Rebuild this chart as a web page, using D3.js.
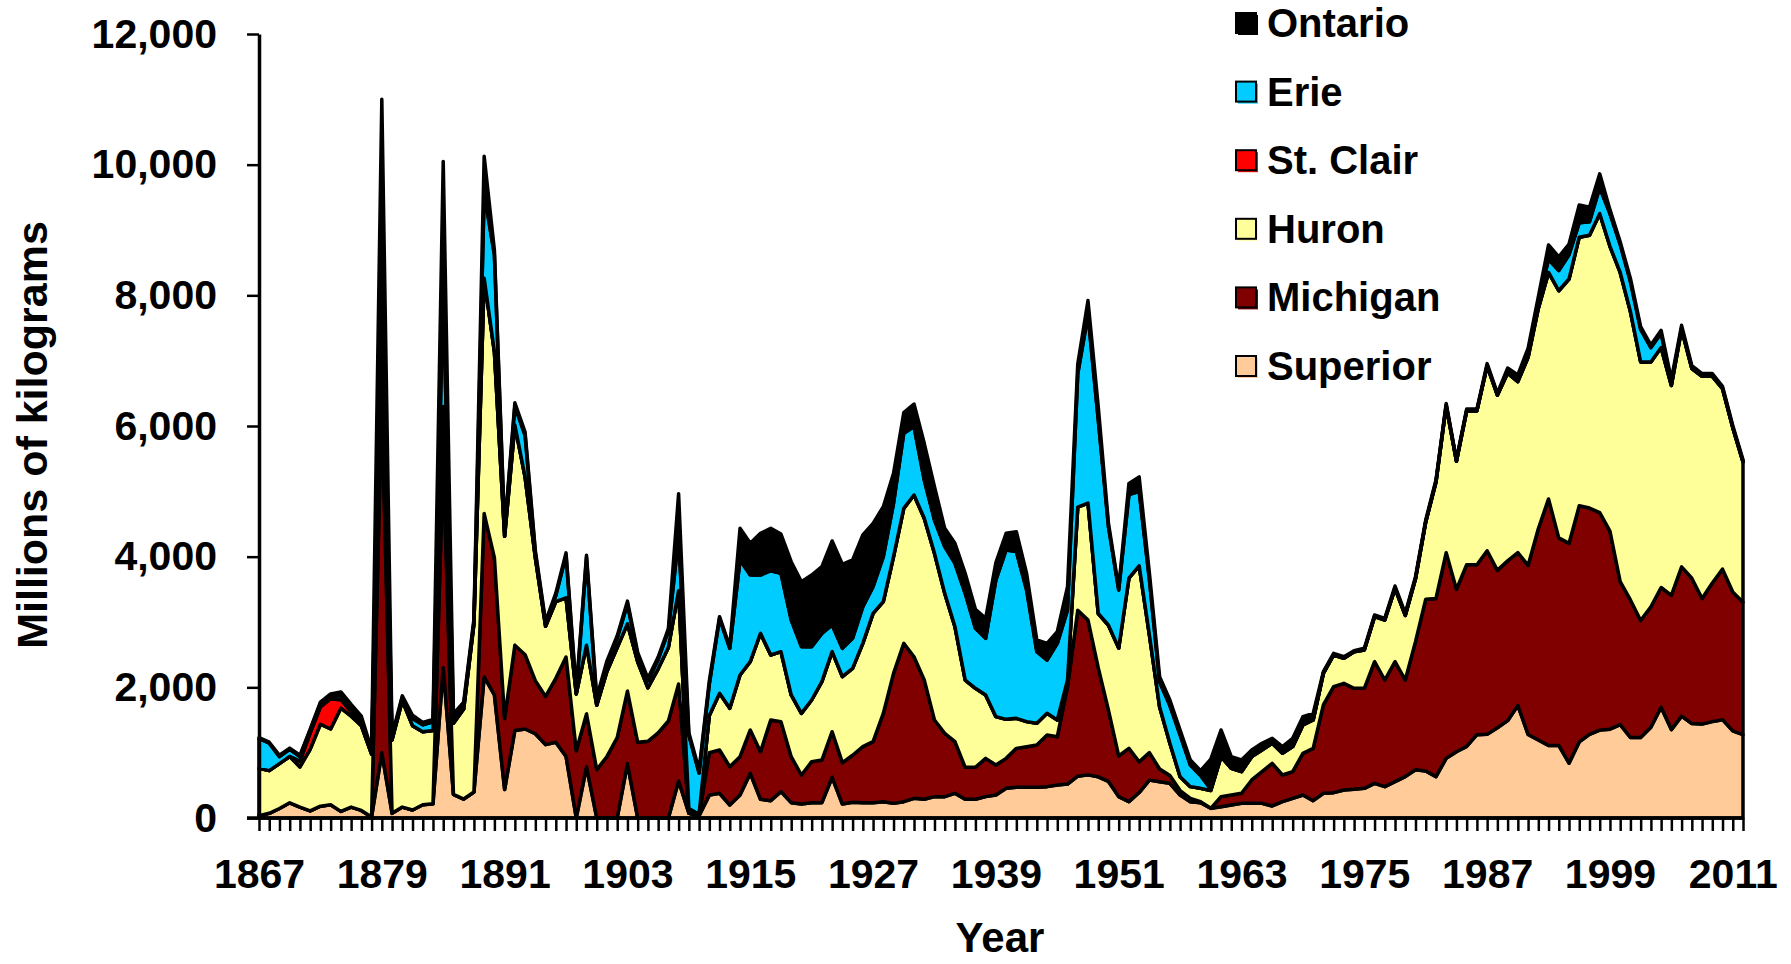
<!DOCTYPE html>
<html>
<head>
<meta charset="utf-8">
<script src="https://cdn.jsdelivr.net/npm/d3@7"></script>
<style>
  body { margin: 0; background: #fff; }
  text { font-family: "Liberation Sans", Arial, sans-serif; font-weight: bold; fill: #000; }
</style>
</head>
<body>
<div id="chart"></div>
<script>
// yearly values, 1867-2012, millions of kg
var firstYear = 1867;
var lastYear = 2012;
var tickYears = [1867, 1879, 1891, 1903, 1915, 1927, 1939, 1951, 1963, 1975, 1987, 1999, 2011];
var yTicks = [0, 2000, 4000, 6000, 8000, 10000, 12000];

var superior = [
  36, 72, 145, 232, 167, 109, 181, 203, 101, 167,
  116, 14, 1000, 72, 167, 123, 203, 217, 2300, 362,
  290, 398, 2159, 1884, 435, 1340, 1362, 1290, 1123, 1160,
  942, 0, 783, 0, 0, 0, 833, 0, 0, 0,
  0, 565, 72, 36, 350, 378, 199, 352, 684, 286,
  265, 403, 235, 214, 235, 235, 622, 214, 240, 235,
  235, 250, 224, 250, 301, 286, 327, 327, 378, 286,
  286, 327, 352, 454, 469, 469, 469, 480, 505, 520,
  640, 660, 630, 560, 327, 250, 390, 580, 556, 531,
  352, 250, 235, 148, 173, 199, 224, 224, 224, 184,
  250, 301, 352, 265, 378, 388, 429, 439, 454, 531,
  480, 556, 633, 738, 720, 633, 913, 1015, 1095, 1275,
  1280, 1380, 1490, 1722, 1279, 1195, 1110, 1110, 840, 1165,
  1280, 1345, 1360, 1430, 1232, 1232, 1390, 1695, 1353, 1560,
  1445, 1437, 1475, 1505, 1333, 1275];

var michigan = [
  0, 0, 0, 0, 0, 0, 0, 0, 0, 0,
  0, 0, 5400, 0, 0, 0, 0, 0, 3200, 0,
  0, 0, 2500, 2101, 1087, 1305, 1138, 811, 739, 978,
  1522, 1029, 811, 739, 942, 1232, 1109, 1159, 1174, 1304,
  1485, 1485, 0, 0, 650, 663, 587, 587, 663, 729,
  1235, 1071, 704, 444, 627, 653, 699, 633, 720, 857,
  933, 1352, 1990, 2423, 2168, 1826, 1173, 969, 790, 490,
  490, 586, 459, 459, 597, 623, 648, 790, 740, 1490,
  2540, 2370, 1670, 1090, 623, 816, 470, 420, 194, 119,
  68, 50, 15, 0, 154, 153, 154, 358, 485, 653,
  408, 408, 638, 801, 1352, 1622, 1632, 1546, 1531, 1862,
  1632, 1837, 1479, 1962, 2630, 2727, 3147, 2485, 2781, 2601,
  2810, 2410, 2446, 2340, 2587, 3233, 3774, 3177, 3363, 3614,
  3464, 3329, 3032, 2189, 2106, 1790, 1843, 1833, 2056, 2284,
  2224, 1922, 2123, 2304, 2125, 2028];

var huron = [
  724, 653, 688, 710, 615, 941, 1254, 1159, 1580, 1391,
  1297, 964, 850, 1123, 1630, 1290, 1116, 1123, 800, 1088,
  1377, 2573, 3601, 3152, 2789, 3369, 2717, 1884, 1073, 1173,
  906, 869, 1051, 986, 1304, 1377, 1029, 1232, 819, 979,
  1124, 1428, 73, 22, 570, 867, 893, 1250, 1046, 1811,
  995, 1072, 944, 944, 944, 1199, 1225, 1316, 1330, 1581,
  1965, 1709, 1786, 2067, 2475, 2475, 2551, 2143, 1761, 1336,
  1209, 970, 740, 597, 460, 383, 332, 332, 255, 102,
  1580, 1790, 830, 1300, 1650, 2604, 3000, 1800, 950, 493,
  213, 180, 204, 272, 612, 408, 331, 357, 332, 306,
  332, 383, 433, 434, 484, 485, 383, 561, 586, 689,
  919, 1122, 988, 960, 1180, 1780, 2250, 1960, 2354, 2354,
  2830, 2680, 2874, 2618, 3184, 3372, 3466, 3783, 4047, 4111,
  4176, 4576, 4358, 4731, 4412, 3958, 3747, 3672, 3211, 3636,
  3211, 3401, 3162, 2761, 2517, 2147];

var stClair = [
  0, 0, 0, 0, 88, 250, 265, 464, 130, 72,
  0, 0, 0, 0, 0, 0, 0, 0, 0, 0,
  0, 0, 0, 0, 0, 0, 0, 0, 0, 0,
  0, 0, 0, 0, 0, 0, 0, 0, 0, 0,
  0, 0, 0, 0, 0, 0, 0, 0, 0, 0,
  0, 0, 0, 0, 0, 0, 0, 0, 0, 0,
  0, 0, 0, 0, 0, 0, 0, 0, 0, 0,
  0, 0, 0, 0, 0, 0, 0, 0, 0, 0,
  0, 0, 0, 0, 0, 0, 0, 0, 0, 0,
  0, 0, 0, 0, 0, 0, 0, 0, 0, 0,
  0, 0, 0, 0, 0, 0, 0, 0, 0, 0,
  0, 0, 0, 0, 0, 0, 0, 0, 0, 0,
  0, 0, 0, 0, 0, 0, 0, 0, 0, 0,
  0, 0, 0, 0, 0, 0, 0, 0, 0, 0,
  0, 0, 0, 0, 0, 0];

var erie = [
  457, 420, 107, 108, 72, 40, 53, 44, 59, 70,
  87, 22, 1350, 37, 51, 109, 108, 131, 1800, 72,
  72, 29, 1305, 1486, 73, 290, 638, 73, 36, 95,
  652, 22, 1340, 72, 109, 145, 304, 109, 108, 144,
  253, 833, 1123, 630, 480, 1148, 918, 1760, 1326, 893,
  1290, 1198, 1148, 1020, 816, 739, 408, 434, 460, 562,
  408, 689, 816, 1148, 1046, 586, 510, 714, 969, 1327,
  918, 867, 2092, 2592, 2551, 2015, 1097, 816, 1173, 1072,
  2040, 2880, 2970, 1510, 890, 1280, 1140, 850, 380, 577,
  637, 330, 196, 20, 11, 10, 11, 11, 9, 7,
  10, 8, 7, 10, 6, 5, 6, 4, 9, 8,
  9, 10, 10, 10, 10, 10, 10, 10, 10, 10,
  10, 10, 40, 60, 90, 120, 202, 310, 370, 220,
  205, 400, 500, 430, 460, 500, 220, 220, 50, 25,
  15, 15, 15, 10, 10, 10];

var ontario = [
  13, 15, 20, 20, 18, 20, 22, 30, 60, 39,
  58, 50, 2400, 36, 22, 50, 37, 36, 1950, 72,
  36, 43, 565, 72, 36, 51, 51, 36, 36, 36,
  36, 36, 37, 51, 51, 36, 44, 36, 37, 37,
  36, 652, 36, 51, 50, 26, 25, 485, 485, 638,
  649, 603, 892, 995, 1097, 1021, 1286, 1286, 1200, 1097,
  969, 765, 459, 316, 347, 562, 510, 281, 306, 306,
  291, 306, 265, 255, 306, 255, 178, 255, 179, 357,
  150, 220, 200, 50, 30, 170, 220, 100, 83, 86,
  77, 78, 74, 460, 397, 169, 168, 91, 93, 69,
  92, 119, 121, 92, 20, 20, 19, 11, 17, 17,
  16, 26, 23, 24, 21, 23, 25, 15, 20, 20,
  25, 21, 37, 42, 50, 57, 219, 208, 165, 273,
  222, 210, 62, 40, 48, 40, 39, 44, 42, 36,
  28, 28, 28, 26, 24, 22];

var keys = ['superior', 'michigan', 'huron', 'stClair', 'erie', 'ontario'];
var series_label = {
    superior: 'Superior',
    michigan: 'Michigan',
    huron: 'Huron',
    stClair: 'St. Clair',
    erie: 'Erie',
    ontario: 'Ontario'
};
var series_color = {
    superior: '#FFCC99',
    michigan: '#800000',
    huron: '#FFFF99',
    stClair: '#FF0000',
    erie: '#00CCFF',
    ontario: '#000000'
};

var width = 1791;
var height = 964;
var plotLeft = 259, plotRight = 1743, plotTop = 34, plotBottom = 818;

var years = d3.range(firstYear, lastYear + 1);
var rows = years.map(function(yr, i) {
    return {
        year: yr,
        superior: superior[i],
        michigan: michigan[i],
        huron: huron[i],
        stClair: stClair[i],
        erie: erie[i],
        ontario: ontario[i]
    };
});

var svg = d3.select("#chart")
    .append("svg")
        .attr("width", width)
        .attr("height", height);

svg.append("rect").attr("width", width).attr("height", height).attr("fill", "#fff");

var x = d3.scaleLinear()
    .domain([firstYear, lastYear])
    .range([plotLeft, plotRight]);

var y = d3.scaleLinear()
    .domain([0, 12000])
    .range([plotBottom, plotTop]);

var stacked = d3.stack().keys(keys)(rows);

var area = d3.area()
    .x(function(d) { return x(d.data.year); })
    .y0(function(d) { return y(d[0]); })
    .y1(function(d) { return y(d[1]); });

svg.selectAll("path.layer")
    .data(stacked)
    .enter()
    .append("path")
        .attr("class", "layer")
        .attr("d", area)
        .style("fill", function(d) { return series_color[d.key]; })
        .style("stroke", "#000")
        .style("stroke-width", 3.5)
        .style("stroke-linejoin", "round");

// x axis, one tick a year, a label every 12 years
var xAxis = svg.append("g")
    .attr("transform", "translate(0," + plotBottom + ")")
    .call(d3.axisBottom(x)
        .tickValues(years)
        .tickSize(13)
        .tickSizeOuter(0)
        .tickPadding(28)
        .tickFormat(function(d) { return tickYears.indexOf(d) >= 0 ? d : ""; }));
xAxis.select(".domain").attr("stroke-width", 3.5).attr("d", "M" + (plotLeft - 12) + ",0H" + plotRight);
xAxis.selectAll(".tick line").attr("stroke-width", 2.5);
xAxis.selectAll("text").style("font-size", "41px");

var yAxis = svg.append("g")
    .attr("transform", "translate(" + plotLeft + ",0)")
    .call(d3.axisLeft(y)
        .tickValues(yTicks)
        .tickSize(12)
        .tickSizeOuter(0)
        .tickPadding(30)
        .tickFormat(d3.format(",")));
yAxis.select(".domain").attr("stroke-width", 3.5);
yAxis.selectAll(".tick line").attr("stroke-width", 2.5);
yAxis.selectAll("text").style("font-size", "41px");

svg.append("text")
    .attr("x", 1000)
    .attr("y", 952)
    .attr("text-anchor", "middle")
    .style("font-size", "42px")
    .text("Year");

svg.append("text")
    .attr("transform", "translate(47,435)rotate(-90)")
    .attr("text-anchor", "middle")
    .style("font-size", "43px")
    .text("Millions of kilograms");

// legend, top series first
var legendKeys = keys.slice().reverse();
var legend = svg.selectAll("g.legend")
    .data(legendKeys)
    .enter()
    .append("g")
        .attr("class", "legend")
        .attr("transform", function(d, i) { return "translate(1236," + (23 + i * 68.6) + ")"; });

legend.append("rect")
    .attr("x", 2).attr("y", -8)
    .attr("width", 20).attr("height", 20)
    .style("fill", function(d) { return series_color[d]; });
legend.append("rect")
    .attr("x", 0).attr("y", -10)
    .attr("width", 20).attr("height", 20)
    .style("fill", function(d) { return series_color[d]; })
    .style("stroke", "#000")
    .style("stroke-width", 2);
legend.append("text")
    .attr("x", 31)
    .attr("y", 14)
    .style("font-size", "40px")
    .text(function(d) { return series_label[d]; });
</script>
</body>
</html>
